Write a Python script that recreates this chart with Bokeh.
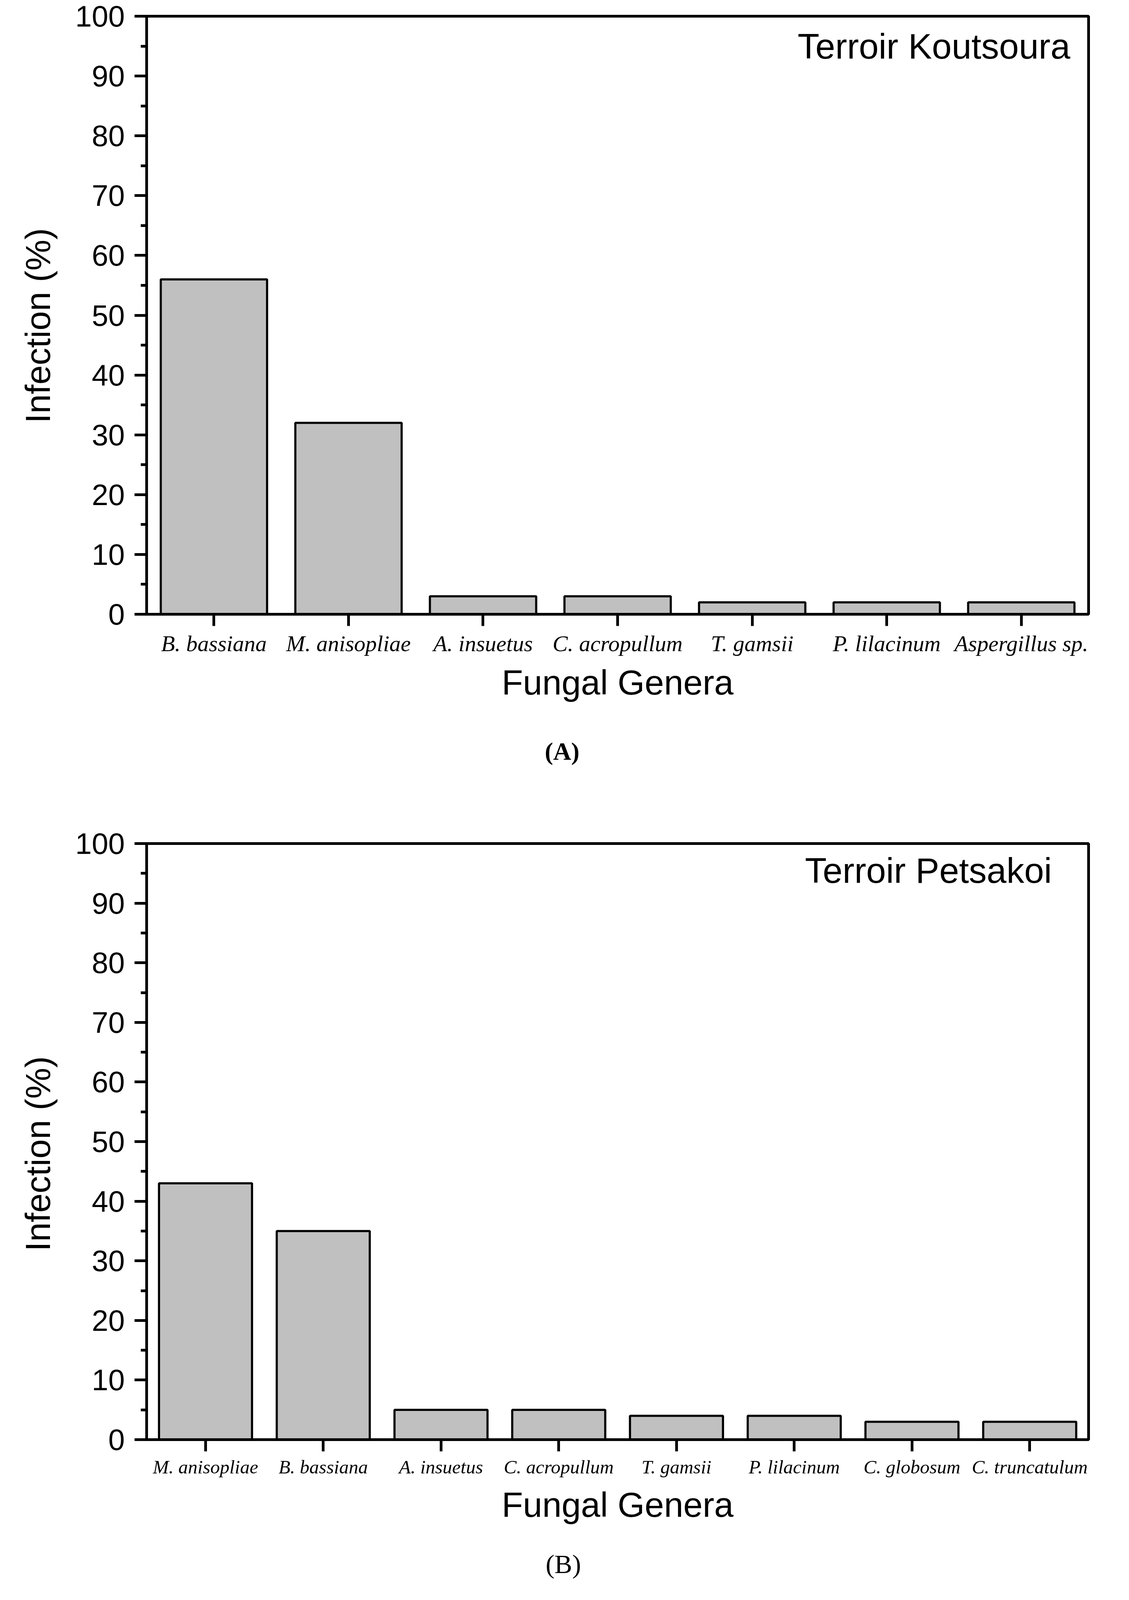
from bokeh.plotting import figure
from bokeh.models import FactorRange, Range1d, SingleIntervalTicker, Label, ColumnDataSource, Title
from bokeh.layouts import column
from bokeh.embed import file_html
from bokeh.resources import INLINE
from bokeh.core.properties import value

# ---------------- data ----------------
genera_a = ["B. bassiana", "M. anisopliae", "A. insuetus", "C. acropullum",
            "T. gamsii", "P. lilacinum", "Aspergillus sp."]
infection_a = [56, 32, 3, 3, 2, 2, 2]

genera_b = ["M. anisopliae", "B. bassiana", "A. insuetus", "C. acropullum",
            "T. gamsii", "P. lilacinum", "C. globosum", "C. truncatulum"]
infection_b = [43, 35, 5, 5, 4, 4, 3, 3]

y_tick_step = 10
y_max = 100
x_title = "Fungal Genera"
y_title = "Infection (%)"
site_a = "Terroir Koutsoura"
site_b = "Terroir Petsakoi"
caption_a = "(A)"
caption_b = "(B)"

# ---------------- layout helpers ----------------
PAGE_W = 2875          # canvas width (page is 2891 wide with 8px margins)
MARGIN = 8
F = 0.852              # vertical fit factor so the whole page fits the visible window
FRAME_L, FRAME_R = 383, 2795   # shared frame edges (page px); Bokeh aligns them in a column
BORDER_L = FRAME_L - MARGIN
BORDER_R = MARGIN + PAGE_W - FRAME_R


def vy(y):
    """reference page y -> page y used here"""
    return int(round(y * F))


def make_panel(genera, values, geo):
    top0 = geo["canvas_top"]
    bot0 = geo["canvas_bot"]
    ft, fb = geo["frame_y"]
    H = bot0 - top0
    n = len(genera)

    def to_data(px, py):
        return ((px - FRAME_L) / (FRAME_R - FRAME_L) * n, (fb - py) / (fb - ft) * y_max)

    p = figure(
        x_range=FactorRange(factors=genera, range_padding=0),
        y_range=Range1d(0, y_max),
        width=PAGE_W, height=H,
        min_border_left=BORDER_L,
        min_border_right=BORDER_R,
        min_border_top=ft - top0,
        min_border_bottom=bot0 - fb,
        toolbar_location=None,
        output_backend="svg",
        background_fill_color="white",
        border_fill_color="white",
    )
    p.xgrid.visible = False
    p.ygrid.visible = False
    p.outline_line_color = "black"
    p.outline_line_width = 7

    src = ColumnDataSource(dict(genus=genera, infection=values))
    p.vbar(x="genus", top="infection", width=0.79, source=src,
           fill_color="#c0c0c0", line_color="black", line_width=5.5)

    # y axis
    yax = p.yaxis[0]
    yax.ticker = SingleIntervalTicker(interval=y_tick_step, num_minor_ticks=2)
    yax.axis_line_width = 7
    yax.major_tick_line_width = 7
    yax.minor_tick_line_width = 7
    yax.major_tick_out = 31
    yax.major_tick_in = 0
    yax.minor_tick_out = 15
    yax.minor_tick_in = 0
    yax.major_label_text_font = "Liberation Sans"
    yax.major_label_text_font_size = "76px"
    yax.major_label_text_color = "black"
    yax.major_label_standoff = 25

    # y title: a side title so it can sit a little below the frame centre, as in the original
    p.add_layout(Title(text=y_title, align="left", offset=geo["ytitle_offset"],
                       vertical_align="bottom", standoff=86,
                       text_font="Liberation Sans", text_font_style="normal",
                       text_font_size="89px", text_color="black"), "left")

    # x axis
    xax = p.xaxis[0]
    xax.axis_line_width = 7
    xax.major_tick_line_width = 7
    xax.major_tick_out = 30
    xax.major_tick_in = 0
    xax.major_label_text_font = "Liberation Serif"
    xax.major_label_text_font_style = "italic"
    xax.major_label_text_font_size = geo["xlab_size"]
    xax.major_label_text_color = "black"
    xax.major_label_standoff = geo["xlab_standoff"]
    xax.major_label_orientation = "horizontal"
    xax.axis_label = x_title
    xax.axis_label_text_font = "Liberation Sans"
    xax.axis_label_text_font_style = "normal"
    xax.axis_label_text_font_size = "89px"
    xax.axis_label_text_color = "black"
    xax.axis_label_standoff = geo["xtitle_standoff"]

    # site annotation (top-right inside the frame)
    sx, sy = to_data(*geo["site_pos"])
    p.add_layout(Label(x=sx, y=sy, text=geo["site"],
                       text_font="Liberation Sans", text_font_size="91px",
                       text_align="right", text_baseline="alphabetic",
                       text_color="black"))
    return p


def make_caption(text, top0, bot0, cx, cy, size, style):
    """A strip below a panel carrying its (A)/(B) caption; data units = page px."""
    c = figure(width=PAGE_W, height=bot0 - top0,
               x_range=Range1d(FRAME_L, FRAME_R),
               y_range=Range1d(bot0, top0),
               x_axis_type=None, y_axis_type=None,
               min_border_left=BORDER_L, min_border_right=BORDER_R,
               min_border_top=0, min_border_bottom=0,
               toolbar_location=None, output_backend="svg",
               background_fill_color="white", border_fill_color="white")
    c.outline_line_color = None
    c.text(x=[cx], y=[cy], text=[text], text_font=value("Liberation Serif"),
           text_font_style=style, text_font_size=size, text_color="black",
           text_align="center", text_baseline="alphabetic")
    return c


# boundaries (reference page pixels, converted with vy)
a_top, a_bot = MARGIN, vy(2160)
capa_top, capa_bot = a_bot, vy(2450)
b_top, b_bot = capa_bot, vy(4620)
capb_top, capb_bot = b_bot, vy(4773)

geo_a = dict(canvas_top=a_top, canvas_bot=a_bot, frame_y=(vy(58), vy(1855)),
             xlab_size="58px", xlab_standoff=12, xtitle_standoff=14,
             ytitle_offset=489, site=site_a, site_pos=(2748, vy(148)))
geo_b = dict(canvas_top=b_top, canvas_bot=b_bot, frame_y=(vy(2544), vy(4335)),
             xlab_size="49px", xlab_standoff=12, xtitle_standoff=16,
             ytitle_offset=482, site=site_b, site_pos=(2701, vy(2625)))

pa = make_panel(genera_a, infection_a, geo_a)
ca = make_caption(caption_a, capa_top, capa_bot, 1447, vy(2280) - 12, "64px", "bold")
pb = make_panel(genera_b, infection_b, geo_b)
cb = make_caption(caption_b, capb_top, capb_bot, 1450, vy(4755) - 40, "68px", "normal")

layout = column(pa, ca, pb, cb, spacing=0)
open("out.html", "w").write(file_html(layout, INLINE))
